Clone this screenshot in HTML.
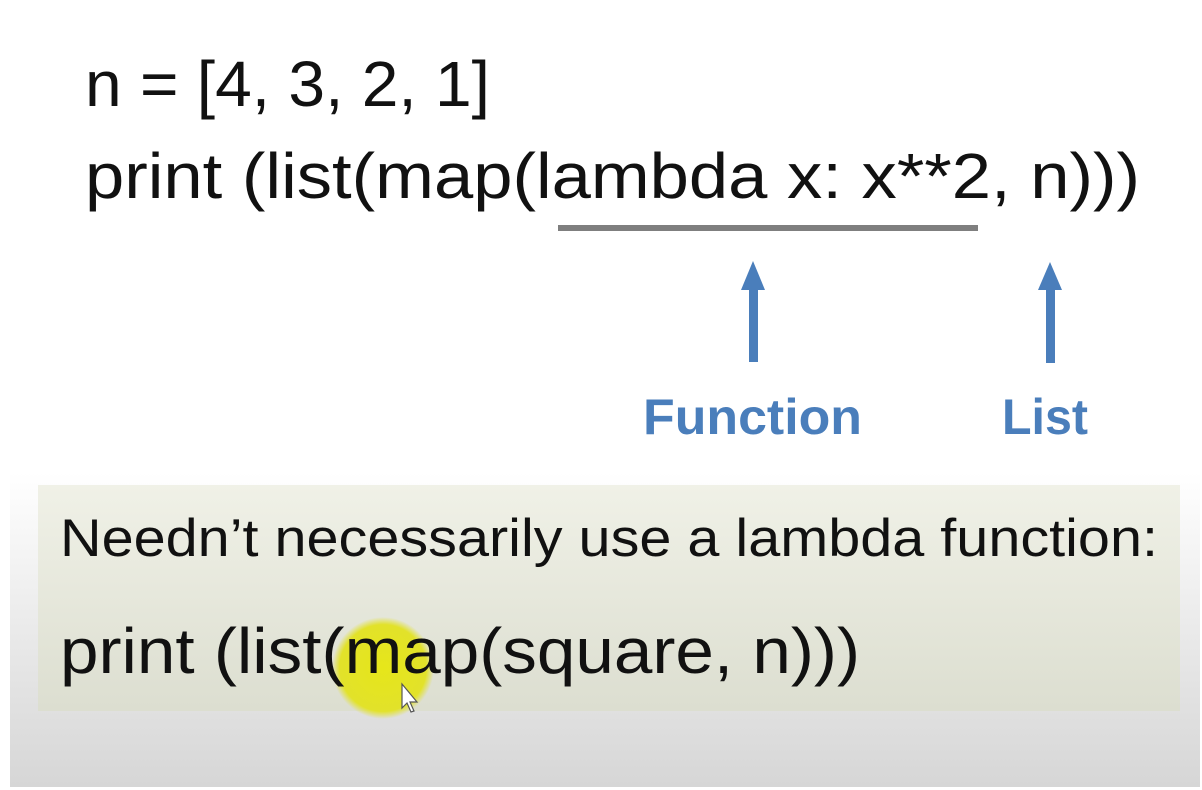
<!DOCTYPE html>
<html><head><meta charset="utf-8"><style>
html,body{margin:0;padding:0;background:#fff;}
svg{display:block}
</style></head><body>
<svg width="1202" height="790" viewBox="0 0 1202 790" xmlns="http://www.w3.org/2000/svg">
<defs>
<linearGradient id="bg" x1="0" y1="0" x2="0" y2="1">
<stop offset="0" stop-color="#ffffff"/>
<stop offset="0.6" stop-color="#ffffff"/>
<stop offset="0.8" stop-color="#eaeaea"/>
<stop offset="1" stop-color="#d6d6d6"/>
</linearGradient>
<linearGradient id="box" x1="0" y1="0" x2="0" y2="1">
<stop offset="0" stop-color="#f0f1e7"/>
<stop offset="1" stop-color="#dcded0"/>
</linearGradient>
<radialGradient id="hl">
<stop offset="0" stop-color="#e6e61a"/>
<stop offset="0.85" stop-color="#e2e22a"/>
<stop offset="1" stop-color="#e2e22a" stop-opacity="0"/>
</radialGradient>
</defs>
<rect x="0" y="0" width="1202" height="790" fill="#fff"/>
<rect x="10" y="0" width="1190" height="787" fill="url(#bg)"/>
<rect x="38" y="485" width="1142" height="226" fill="url(#box)"/>
<g font-family="Liberation Sans, sans-serif" fill="#111">
<text x="85" y="106" font-size="64" textLength="405" lengthAdjust="spacingAndGlyphs">n = [4, 3, 2, 1]</text>
<text x="85" y="198" font-size="64" textLength="1055" lengthAdjust="spacingAndGlyphs">print (list(map(lambda x: x**2, n)))</text>
<text x="60" y="556" font-size="53" textLength="1098" lengthAdjust="spacingAndGlyphs">Needn’t necessarily use a lambda function:</text>
</g>
<rect x="558" y="225" width="420" height="6" fill="#7f7f7f"/>
<g fill="#4a7ebb">
<rect x="749" y="285" width="9" height="77"/>
<polygon points="753,261 741,290 765,290"/>
<rect x="1046" y="285" width="9" height="78"/>
<polygon points="1050,262 1038,290 1062,290"/>
</g>
<g font-family="Liberation Sans, sans-serif" font-weight="bold" fill="#4a7ebb" font-size="50">
<text x="643" y="434" textLength="219" lengthAdjust="spacingAndGlyphs">Function</text>
<text x="1002" y="434" textLength="86" lengthAdjust="spacingAndGlyphs">List</text>
</g>
<circle cx="383" cy="668" r="51" fill="url(#hl)"/>
<text x="60" y="673" font-family="Liberation Sans, sans-serif" font-size="64" fill="#111" textLength="800" lengthAdjust="spacingAndGlyphs">print (list(map(square, n)))</text>
<path d="M402,684 L402,708 L407,703 L411,712 L414,711 L410,702 L417,702 Z" fill="#fff" stroke="#555" stroke-width="1.2"/>
</svg>
</body></html>
